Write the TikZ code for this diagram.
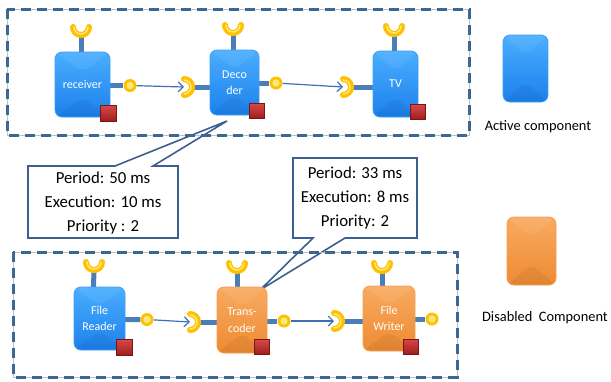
\documentclass[tikz,border=0pt]{standalone}
\usepackage{fontspec}
\setmainfont{Carlito}
\usetikzlibrary{arrows.meta,calc}
\definecolor{stemc}{HTML}{4B7DBA}
\definecolor{yel}{HTML}{FFC000}
\definecolor{yelin}{HTML}{FFEA80}
\definecolor{dashc}{HTML}{3D6694}
\definecolor{callc}{HTML}{3C6190}
\definecolor{arrc}{HTML}{3F6FB5}
\definecolor{redt}{HTML}{D84848}
\definecolor{redb}{HTML}{A01C1C}
\definecolor{rede}{HTML}{7A1515}
\definecolor{cbTop}{HTML}{4AAEFF}
\definecolor{cbBot}{HTML}{1C80EC}
\definecolor{cbEdge}{HTML}{3C9EF5}
\definecolor{coTop}{HTML}{F8AA60}
\definecolor{coBot}{HTML}{EE8B32}
\definecolor{coEdge}{HTML}{F29E52}
\newcommand\sockarc[3]{%
  \draw[sockout] ($(#1)+(#2:8)$) arc[start angle=#2,end angle=#3,radius=8];
  \draw[sockin] ($(#1)+(#2:7)$) arc[start angle=#2,end angle=#3,radius=7];}
\begin{document}
\begin{tikzpicture}[x=1pt,y=-1pt,
  bevel/.style={path picture={
    \fill[white,opacity=0.07] (path picture bounding box.north west) --
      ($(path picture bounding box.north)!0.3!(path picture bounding box.south)$) --
      (path picture bounding box.north east) -- cycle;
    \fill[black,opacity=0.05] (path picture bounding box.south west) --
      ($(path picture bounding box.south)!0.3!(path picture bounding box.north)$) --
      (path picture bounding box.south east) -- cycle;}},
  compbase/.style={rounded corners=7pt, line width=0.8pt, text=white,
    font=\fontsize{12}{16.5}\selectfont, align=center, inner sep=0pt, bevel},
  compblue/.style={compbase, draw=cbEdge, top color=cbTop, bottom color=cbBot},
  comporange/.style={compbase, draw=coEdge, top color=coTop, bottom color=coBot},
  stem/.style={stemc, line width=5pt},
  sockout/.style={yel, line width=6pt, line cap=round},
  sockin/.style={yelin, line width=1.4pt, line cap=round},
  ball/.style={circle, fill=yel, minimum size=13pt, inner sep=0pt},
  ballin/.style={fill=yelin},
  redsq/.style={rectangle, minimum size=15pt, inner sep=0pt, draw=rede, line width=0.6pt,
    top color=redt, bottom color=redb},
  conn/.style={arrc, line width=1.2pt, -{Straight Barb[length=5pt,width=10pt,line width=1.2pt]}},
  dashbox/.style={dashc, line width=3pt, dash pattern=on 10pt off 6pt},
  grayline/.style={black!25, line width=0.7pt},
  callout/.style={callc, line width=1.6pt, fill=white, line join=miter},
  calltext/.style={font=\fontsize{16.8}{24}\selectfont, align=center, inner sep=0pt},
  legtext/.style={font=\fontsize{14.4}{17}\selectfont, inner sep=0pt}
]
\useasboundingbox (0,0) rectangle (611,381);

% callouts
\draw[callout] (28,166) -- (115,166) -- (227,121) -- (153,166) -- (178,166) -- (178,238) -- (28,238) -- cycle;
\node[calltext] (c1) at (103,203) {Period: 50 ms\\Execution: 10 ms\\Priority : 2};
\draw[callout] (293,158) -- (417,158) -- (417,238) -- (345,238) -- (260,290) -- (313,238) -- (293,238) -- cycle;
\node[calltext] (c2) at (355,198) {Period: 33 ms\\Execution: 8 ms\\Priority: 2};

% dashed groups
\draw[grayline] (7,9) rectangle (469,135);
\draw[dashbox] (7,9) rectangle (469,135);
\draw[grayline] (13,252) rectangle (457,377);
\draw[dashbox] (13,252) rectangle (457,377);

% ---------- top row ----------
% receiver
\coordinate (su1) at (81,27);
\node[ball] (b1) at (130,85.5) {};
\draw[stem] (82,85.5) -- (b1);
\draw[stem] (81,60) -- ($(su1)+(0,9)$);
\node[compblue, minimum width=55pt, minimum height=65pt] (rcv) at (82.5,84.5) {receiver};
\fill[ballin] (b1) circle[radius=3.6];
\sockarc{su1}{0}{180}
\node[redsq, minimum size=16pt] (r1) at (108.5,113.5) {};

% decoder
\coordinate (su2) at (233,25);
\coordinate (sl2) at (184,87);
\node[ball] (b2) at (276,83) {};
\draw[stem] (234,83) -- (b2);
\draw[stem] (234,87) -- ($(sl2)+(9,0)$);
\draw[stem] (233,60) -- ($(su2)+(0,9)$);
\node[compblue, minimum width=49pt, minimum height=65pt] (dec) at (234.5,82.5) {Deco\\der};
\fill[ballin] (b2) circle[radius=3.6];
\sockarc{su2}{0}{180}
\sockarc{sl2}{-90}{90}
\node[redsq] (r2) at (256.5,111) {};

% TV
\coordinate (su3) at (394,26);
\coordinate (sl3) at (343,87);
\draw[stem] (395,87) -- ($(sl3)+(9,0)$);
\draw[stem] (394,60) -- ($(su3)+(0,9)$);
\node[compblue, minimum width=45pt, minimum height=66pt] (tv) at (395.5,84) {TV};
\sockarc{su3}{0}{180}
\sockarc{sl3}{-90}{90}
\node[redsq] (r3) at (417.5,112) {};

\draw[conn] (b1) -- (sl2);
\draw[conn] (b2) -- (sl3);

% ---------- bottom row ----------
% file reader
\coordinate (su4) at (94,262);
\node[ball] (b4) at (147,319.5) {};
\draw[stem] (100,320) -- (b4);
\draw[stem] (93,300) -- ($(su4)+(0,9)$);
\node[compblue, minimum width=51pt, minimum height=63pt] (frd) at (99.5,318.5) {File\\Reader};
\fill[ballin] (b4) circle[radius=3.6];
\sockarc{su4}{0}{180}
\node[redsq, minimum size=16pt] (r4) at (124,347.5) {};

% transcoder
\coordinate (su5) at (237,263);
\coordinate (sl5) at (190,322);
\node[ball] (b5) at (284,321) {};
\draw[stem] (242,321) -- (b5);
\draw[stem] (242,322) -- ($(sl5)+(9,0)$);
\draw[stem] (237,300) -- ($(su5)+(0,9)$);
\node[comporange, minimum width=50pt, minimum height=66pt] (trc) at (242,320) {Trans-\\coder};
\fill[ballin] (b5) circle[radius=3.6];
\sockarc{su5}{0}{180}
\sockarc{sl5}{-90}{90}
\node[redsq] (r5) at (261.5,347) {};

% file writer
\coordinate (su6) at (382,263);
\coordinate (sl6) at (334,321);
\node[ball] (b6) at (432,319) {};
\draw[stem] (389,319) -- (b6);
\draw[stem] (389,321) -- ($(sl6)+(9,0)$);
\draw[stem] (382,300) -- ($(su6)+(0,9)$);
\node[comporange, minimum width=52pt, minimum height=65pt] (fwr) at (389,318.5) {File\\Writer};
\fill[ballin] (b6) circle[radius=3.6];
\sockarc{su6}{0}{180}
\sockarc{sl6}{-90}{90}
\node[redsq] (r6) at (411,346.5) {};

\draw[conn] (b4) -- (sl5);
\draw[conn] (b5) -- (sl6);

% legend
\node[compblue, minimum width=45pt, minimum height=67pt] (lgA) at (525.5,68.5) {};
\node[legtext] (lgAt) at (538,127) {Active component};
\node[comporange, minimum width=49pt, minimum height=68pt] (lgD) at (531.5,251) {};
\node[legtext] (lgDt) at (545,318) {Disabled\ \ Component};
\end{tikzpicture}
\end{document}
